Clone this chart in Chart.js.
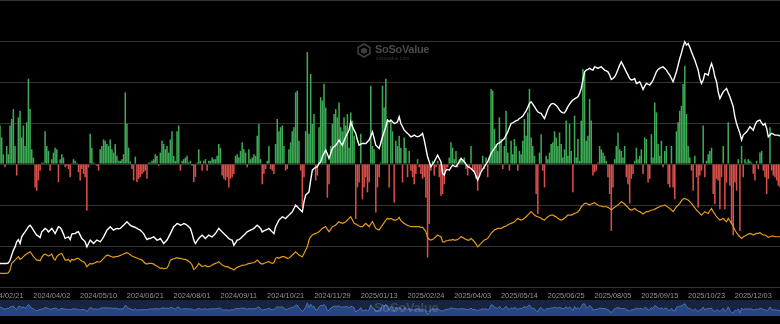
<!DOCTYPE html>
<html>
<head>
<meta charset="utf-8">
<script src="https://cdn.jsdelivr.net/npm/chart.js@4.4.1/dist/chart.umd.min.js"></script>
<style>
html,body{margin:0;padding:0;background:#000;width:780px;height:324px;overflow:hidden;}
#wrap{position:relative;width:780px;height:324px;background:#000;}
#main{position:absolute;left:0;top:0;}
#nav{position:absolute;left:0;top:300px;background:#17243f;}
.wm{position:absolute;font-family:'Liberation Sans',Arial,sans-serif;font-weight:bold;white-space:nowrap;}
</style>
</head>
<body>
<div id="wrap">
  <canvas id="main" width="780" height="300"></canvas>
  <canvas id="nav" width="780" height="16"></canvas>
  <svg class="wm" style="left:357px;top:43px" width="14" height="15" viewBox="0 0 14 15">
    <path d="M7 1 L13 4.5 L13 10.5 L7 14 L1 10.5 L1 4.5 Z" fill="none" stroke="#3e3e3e" stroke-width="1.6"/>
    <path d="M7 4.5 L10 6.2 L10 9.2 L7 11 L4 9.2 L4 6.2 Z" fill="#3e3e3e"/>
  </svg>
  <div class="wm" style="left:375px;top:43px;font-size:11px;color:#4a4a4a;letter-spacing:-0.3px;">SoSoValue</div>
  <div class="wm" style="left:376px;top:55px;font-size:5px;font-weight:normal;color:#333;">sosovalue.com</div>
  <div class="wm" style="left:374px;top:300px;font-size:13px;color:rgba(255,255,255,0.16);letter-spacing:-0.3px;">SoSoValue</div>
</div>
<script>
// ---- data ----
const tickLabels = ['2024/02/21','2024/04/02','2024/05/10','2024/06/21','2024/08/01','2024/09/11','2024/10/21','2024/11/29','2025/01/13','2025/02/24','2025/04/03','2025/05/14','2025/06/25','2025/08/05','2025/09/15','2025/10/23','2025/12/03'];
const marketHolidays = ['2024-03-29','2024-05-27','2024-06-19','2024-07-04','2024-09-02','2024-11-28','2024-12-25','2025-01-01','2025-01-09','2025-01-20','2025-02-17','2025-04-18','2025-05-26','2025-06-19','2025-07-04','2025-09-01','2025-11-27','2025-12-25'];

// daily total net inflow (US$ million)
const netInflow = [
470,325,120,-40,220,120,470,550,670,220,
-140,570,650,325,470,220,510,1040,670,180,
80,-285,-325,-200,-80,20,15,400,220,160,
-80,60,140,200,180,-220,60,120,80,-40,
-20,-60,-160,10,60,40,15,-100,-200,-60,
-120,-160,-570,-40,370,200,20,10,-20,-80,
180,220,300,285,245,220,300,180,140,245,
100,40,40,60,120,875,490,200,30,-60,
-200,90,-220,-180,-160,-120,-100,-80,-180,20,
20,40,60,120,100,-20,140,285,245,180,
220,140,300,400,100,40,400,470,-80,40,
60,80,100,20,40,-20,-220,
-160,20,180,40,-80,40,60,-80,40,40,
80,60,60,100,245,200,-140,-180,-200,-160,
-285,-180,-160,-120,100,120,80,160,265,180,
140,-40,180,60,80,120,100,345,490,60,
-245,-120,-60,40,220,-60,-80,-120,245,550,
400,450,470,220,-80,-60,180,265,400,450,
875,895,285,-80,-530,-160,400,1365,370,1100,
490,610,-200,-140,450,815,775,980,690,-410,
-245,220,490,610,670,570,750,450,400,570,
470,610,200,630,530,345,-670,-285,-225,370,
-430,-285,-160,-345,-225,955,220,180,-590,-285,
-160,20,955,690,1040,550,-285,
530,400,-470,285,220,345,200,-225,325,200,
-160,160,-80,-160,-245,-120,60,-40,-120,-180,
-160,-410,-1140,-730,-80,40,-140,-40,40,-160,
-385,-365,-245,-80,-40,80,265,200,60,160,
-40,60,80,60,80,-60,-140,-40,220,-80,
-100,-180,-325,-160,-80,100,-60,80,-160,80,
915,895,430,245,160,570,305,-60,220,650,
140,-80,285,120,305,220,-80,160,120,285,
550,345,630,915,325,220,100,-365,-610,140,
365,-80,-285,100,60,140,245,265,400,325,
220,385,245,80,180,530,100,490,160,-345,
590,80,305,40,530,1160,1120,
285,345,795,530,-140,-100,-80,20,220,180,
140,100,40,-160,-365,-815,-285,60,220,385,
180,160,80,220,-160,-245,-480,-180,-120,40,
200,60,100,180,-120,325,305,-225,-180,365,
80,750,630,245,100,285,-40,160,220,-245,
-285,220,-285,-430,400,510,650,710,975,1200,
610,220,80,-80,-325,100,-160,-530,-140,-80,
470,-160,40,120,160,200,-365,-490,-180,-200,
-550,-160,220,-550,-225,510,-265,-730,-870,-225,
-325,60,-815,220,-160,60,20,60,40,20,
-120,-200,40,-60,140,160,-80,-160,-365,-180,
450,-80,-140,-160,-200,-265,-285
];

// total net assets (US$ billion)
const totalNetAssets = [
39.5,39.5,39.5,39.5,39.5,39.9,41.4,44.4,47.3,49.2,
52.2,53.5,51.2,55.1,56.7,58.0,59.4,61.0,61.9,60.6,
59.0,57.4,56.1,55.5,54.7,58.0,59.0,60.0,59.4,58.0,
59.0,60.0,58.6,57.0,59.0,61.0,60.6,59.0,56.7,54.1,
54.7,55.1,53.5,56.7,57.0,57.0,57.8,58.0,56.1,54.1,
53.2,52.2,49.2,51.2,53.2,52.2,51.2,52.2,53.2,52.8,
52.2,53.5,55.1,57.0,59.0,60.0,61.0,60.0,59.0,59.6,
60.0,59.8,60.0,61.0,61.9,62.9,63.9,62.9,61.9,61.3,
61.0,60.6,60.0,59.4,59.0,58.0,57.0,55.1,53.5,54.1,
54.1,54.7,55.1,54.1,53.2,53.5,54.1,52.8,51.2,52.2,
53.2,55.1,57.0,59.0,61.0,61.9,62.9,62.5,61.9,62.3,
62.9,62.5,61.9,61.0,60.0,57.0,53.2,
51.2,52.8,54.1,55.1,56.1,55.1,54.1,55.1,56.1,55.5,
55.1,56.1,57.0,58.6,60.0,59.0,58.0,57.0,56.1,55.1,
54.1,53.5,53.2,50.2,51.6,53.2,53.5,54.1,55.1,56.1,
57.0,58.0,58.6,59.0,59.4,60.0,61.0,61.9,61.0,60.0,
58.0,58.6,59.0,59.4,60.0,59.0,58.0,57.0,61.0,62.9,
64.9,65.8,66.8,66.4,65.8,66.8,67.8,68.8,69.7,71.7,
73.6,72.7,71.7,70.7,69.7,75.6,79.5,80.5,81.4,88.3,
94.1,95.1,95.7,96.1,98.0,99.0,101.9,103.9,105.8,103.5,
100.9,103.9,106.8,107.8,108.7,110.1,111.7,110.1,108.7,111.3,
113.6,115.6,117.5,122.4,119.5,117.5,115.6,111.7,108.7,109.3,
109.7,109.7,109.7,110.7,111.7,114.0,116.5,112.6,108.7,107.8,
106.8,110.1,113.6,116.5,119.5,123.4,122.4,
123.4,122.4,121.4,121.8,122.4,125.3,121.4,119.5,117.5,116.5,
115.6,114.6,113.6,114.0,114.6,114.0,113.6,114.0,114.6,115.6,
111.7,106.8,101.9,99.0,96.1,97.6,99.0,100.9,102.9,100.9,
99.0,92.2,91.2,94.1,94.5,94.1,95.7,97.0,96.4,96.1,
97.6,99.0,100.9,100.0,99.0,97.6,96.1,95.7,95.1,94.1,
93.1,90.6,88.3,90.6,93.1,94.5,96.1,97.6,99.0,101.5,
103.9,105.4,106.8,108.1,109.7,110.1,110.7,111.7,112.6,114.6,
116.5,119.1,121.4,121.8,122.4,123.0,123.4,124.3,124.9,125.7,
127.3,128.8,130.8,133.1,134.1,132.7,131.2,129.6,128.2,127.6,
127.3,125.7,124.3,126.9,129.6,131.5,132.7,133.1,132.7,131.9,
130.8,129.2,128.2,127.6,127.6,129.2,131.2,132.7,134.1,135.1,
135.8,136.4,137.0,139.0,141.9,146.8,151.6,
152.6,153.0,153.6,153.0,152.6,154.5,154.2,153.6,154.2,154.5,
153.6,152.6,152.2,151.6,149.7,147.1,147.7,148.7,150.6,153.0,
155.5,157.5,155.5,153.6,151.6,149.7,147.7,146.8,147.1,147.7,
144.8,145.2,145.8,143.8,141.3,143.2,144.8,144.4,143.8,145.2,
146.8,149.1,151.6,153.0,153.6,154.2,154.5,153.6,152.6,151.0,
149.7,147.7,145.8,148.7,151.6,155.5,159.4,162.7,166.3,169.2,
167.2,168.2,165.9,163.3,160.8,158.5,155.5,152.6,147.7,144.8,
146.8,150.6,150.3,149.7,153.6,156.5,153.6,148.7,145.8,139.9,
136.0,138.0,139.9,140.9,141.9,139.3,137.0,134.1,131.2,125.3,
121.4,118.5,115.6,111.7,114.6,115.6,116.5,117.9,119.5,118.5,
117.5,120.4,122.4,123.0,123.4,121.8,120.4,121.4,118.5,113.6,
114.6,115.6,115.2,114.6,114.6,114.6,114.0
];

// BTC price (US$ thousand)
const btcPrice = [
51.8,51.8,51.8,51.8,51.8,52.4,55.0,61.5,63.1,64.7,
66.4,68.0,65.4,66.4,68.0,69.6,70.6,71.9,72.8,70.6,
68.0,66.4,64.7,64.7,64.1,67.3,69.6,70.6,69.6,68.6,
69.3,70.6,66.4,64.7,68.0,69.6,70.6,71.2,68.0,64.7,
64.7,65.4,63.1,65.4,64.7,65.4,66.4,66.4,64.7,63.8,
63.1,61.5,58.3,59.9,61.5,60.8,61.5,62.1,63.1,62.8,
63.1,64.7,66.4,68.0,69.6,69.3,68.6,68.0,67.3,68.0,
68.0,68.6,69.3,69.9,70.6,71.2,71.9,71.2,69.9,68.6,
68.0,67.3,66.7,66.0,65.4,64.7,63.1,61.5,60.8,61.5,
61.5,61.5,60.8,59.6,58.9,57.6,56.6,57.0,56.3,56.6,
57.0,59.9,64.7,65.4,66.0,66.4,67.0,66.4,66.4,66.0,
65.4,65.4,64.7,63.4,62.1,59.9,55.7,
56.6,58.9,61.5,59.9,58.3,58.9,59.6,58.3,58.3,58.9,
59.9,60.8,61.5,62.1,63.1,61.5,59.9,59.2,58.3,58.3,
57.6,56.6,56.3,55.0,56.3,57.6,58.3,58.9,59.6,59.9,
59.9,60.8,61.5,61.5,62.1,62.1,63.4,64.7,63.1,61.5,
60.8,61.5,62.1,62.8,63.1,62.1,61.5,62.1,66.4,67.3,
66.4,67.3,68.0,68.0,67.3,66.4,66.7,68.0,69.6,71.2,
72.8,71.2,69.6,68.6,68.0,71.2,74.5,77.7,84.2,87.4,
89.1,90.0,90.7,91.3,92.3,93.9,95.5,96.5,97.2,94.6,
92.3,94.6,97.2,97.8,98.8,100.4,102.0,101.1,100.4,101.1,
102.0,103.6,105.3,106.9,103.6,100.4,99.8,98.8,97.8,97.2,
97.2,98.8,100.4,98.8,97.2,99.8,102.0,98.8,95.5,94.6,
93.9,96.5,98.8,101.1,103.6,105.3,104.3,
105.3,104.3,103.6,103.6,104.3,106.2,103.0,101.7,100.4,99.4,
98.5,97.8,97.2,97.2,97.2,97.2,97.2,97.2,96.5,96.5,
94.6,92.3,86.8,84.8,84.2,84.8,85.8,87.4,89.1,88.1,
87.4,82.6,82.2,83.5,83.5,84.2,84.2,84.8,84.2,84.2,
84.8,85.8,87.4,86.8,85.8,84.8,84.2,84.2,85.8,84.2,
82.6,80.3,77.7,79.3,81.0,82.6,84.2,84.8,85.8,88.1,
90.7,92.3,93.9,94.6,95.5,95.5,95.5,96.5,97.2,97.8,
98.8,99.8,100.4,101.1,102.0,103.6,105.3,104.3,103.6,104.3,
105.3,106.9,108.5,110.1,111.8,110.1,108.5,107.5,106.9,106.2,
105.3,104.3,103.6,105.3,106.9,107.9,108.5,108.5,107.5,106.9,
105.3,104.3,103.6,104.3,105.3,106.9,108.5,108.5,108.5,109.2,
110.1,110.8,111.8,113.4,116.6,118.2,119.9,
119.9,119.2,118.2,119.2,119.9,120.5,119.2,118.2,117.3,117.3,
116.6,116.6,116.6,116.0,115.0,113.4,115.0,116.0,117.3,118.2,
119.9,121.5,120.5,119.2,117.3,116.0,114.0,113.4,114.0,115.0,
113.4,112.4,111.8,110.8,109.5,110.8,111.8,111.8,112.4,113.4,
113.4,114.3,115.0,116.0,116.6,117.3,117.6,118.2,117.3,116.0,
115.0,113.4,111.8,114.0,116.6,118.2,119.9,122.5,124.1,124.7,
123.8,123.1,121.5,119.9,117.6,115.6,113.4,111.8,110.1,108.5,
110.1,111.8,110.8,110.1,112.7,115.0,111.8,109.5,106.9,105.3,
103.6,104.3,105.3,103.6,102.0,105.3,103.0,100.4,97.2,93.9,
91.3,89.1,87.4,85.8,87.4,88.1,89.1,90.0,90.7,90.0,
89.1,90.0,90.7,90.7,91.3,90.0,89.1,89.1,88.1,86.8,
87.4,88.1,88.1,87.4,87.4,87.4,87.4
];

// trading-day categories
const categories = [];
for (let d = new Date(Date.UTC(2024, 1, 16)); categories.length < netInflow.length; d.setUTCDate(d.getUTCDate() + 1)) {
  const wd = d.getUTCDay();
  const iso = d.toISOString().slice(0, 10);
  if (wd === 0 || wd === 6 || marketHolidays.includes(iso)) continue;
  categories.push(iso.replace(/-/g, '/'));
}

const GREEN = '#3dab55', RED = '#d9504a';
const fontFam = "'Liberation Sans', Arial, sans-serif";

new Chart(document.getElementById('main'), {
  data: {
    labels: categories,
    datasets: [
      { type: 'line', label: 'Total Net Assets', data: totalNetAssets, yAxisID: 'yW',
        borderColor: '#ffffff', borderWidth: 1.4, pointRadius: 0, pointHoverRadius: 0, tension: 0, order: 1 },
      { type: 'line', label: 'BTC Price', data: btcPrice, yAxisID: 'yO',
        borderColor: '#e39a1c', borderWidth: 1.2, pointRadius: 0, pointHoverRadius: 0, tension: 0, order: 2 },
      { type: 'bar', label: 'Daily Total Net Inflow', data: netInflow, yAxisID: 'y',
        backgroundColor: netInflow.map(v => v >= 0 ? GREEN : RED),
        barPercentage: 0.92, categoryPercentage: 1, order: 3 }
    ]
  },
  options: {
    responsive: false, animation: false, devicePixelRatio: 1,
    layout: { padding: 0, autoPadding: false },
    plugins: { legend: { display: false }, tooltip: { enabled: false } },
    scales: {
      x: {
        type: 'category', offset: false,
        grid: { display: false, drawTicks: true, tickLength: 4 }, border: { display: false },
        ticks: {
          autoSkip: false, maxRotation: 0, minRotation: 0, padding: 0,
          color: '#929292', font: { family: fontFam, size: 7.4 },
          callback: (v, i) => tickLabels.includes(categories[i]) ? categories[i] : ''
        }
      },
      y: {
        position: 'left', min: -1500, max: 2000,
        ticks: { display: false, stepSize: 500 },
        grid: { color: '#343434', drawTicks: false, lineWidth: 1 },
        border: { display: false }
      },
      yW: { display: false, min: 25.7, max: 193.6 },
      yO: { display: false, min: 38.4, max: 317.7 }
    }
  }
});

new Chart(document.getElementById('nav'), {
  type: 'line',
  data: {
    labels: categories,
    datasets: [{ data: netInflow, borderColor: '#4c70b4', borderWidth: 1,
      backgroundColor: '#27467f', fill: 'start', pointRadius: 0, pointHoverRadius: 0, tension: 0 }]
  },
  options: {
    responsive: false, animation: false, devicePixelRatio: 1,
    layout: { padding: 0, autoPadding: false },
    plugins: { legend: { display: false }, tooltip: { enabled: false } },
    scales: {
      x: { display: false, offset: false },
      y: { display: false, min: -1500, max: 2000 }
    }
  }
});
</script>
</body>
</html>
